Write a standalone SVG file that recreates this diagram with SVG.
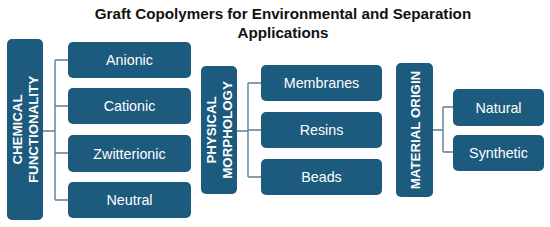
<svg xmlns="http://www.w3.org/2000/svg" width="550" height="227" viewBox="0 0 550 227">
<style>
.box{fill:#1c5b7e;}
.hdr{fill:#fff;font-family:"Liberation Sans",Arial,sans-serif;font-weight:bold;font-size:13.3px;text-anchor:middle;}
.lbl{fill:#fff;font-family:"Liberation Sans",Arial,sans-serif;font-size:14.3px;text-anchor:middle;}
.title{fill:#111;font-family:"Liberation Sans",Arial,sans-serif;font-weight:bold;font-size:15.2px;text-anchor:middle;}
.conn{fill:none;stroke:#5b7f97;stroke-width:1.4;}
</style>
<rect width="550" height="227" fill="#fff"/>
<g id="title">
<text class="title" x="283" y="19">Graft Copolymers for Environmental and Separation</text>
<text class="title" x="283" y="38">Applications</text>
</g>
<g id="connectors">
<path class="conn" d="M43 131H55M55 60V200M55 60H68M55 106H68M55 153H68M55 200H68"/>
<path class="conn" d="M237 131H248M248 83V177M248 83H261M248 130H261M248 177H261"/>
<path class="conn" d="M433 130H443M443 107V152M443 107H453M443 152H453"/>
</g>
<g id="chemical">
<rect class="box" x="7" y="39" width="36" height="181" rx="5"/>
<text class="hdr" transform="translate(25 129.5) rotate(-90)"><tspan x="0" y="-3">CHEMICAL</tspan><tspan x="0" y="12.5">FUNCTIONALITY</tspan></text>
</g>
<g id="anionic"><rect class="box" x="68" y="42" width="123" height="36" rx="5"/><text class="lbl" x="129.5" y="65">Anionic</text></g>
<g id="cationic"><rect class="box" x="68" y="88" width="123" height="36" rx="5"/><text class="lbl" x="129.5" y="111">Cationic</text></g>
<g id="zwitterionic"><rect class="box" x="68" y="135" width="123" height="37" rx="5"/><text class="lbl" x="129.5" y="158.5">Zwitterionic</text></g>
<g id="neutral"><rect class="box" x="68" y="182" width="123" height="36" rx="5"/><text class="lbl" x="129.5" y="205">Neutral</text></g>
<g id="physical">
<rect class="box" x="201" y="66" width="36" height="128" rx="5"/>
<text class="hdr" transform="translate(219 130) rotate(-90)"><tspan x="0" y="-3">PHYSICAL</tspan><tspan x="0" y="12.5">MORPHOLOGY</tspan></text>
</g>
<g id="membranes"><rect class="box" x="261" y="65" width="121" height="36" rx="5"/><text class="lbl" x="321.5" y="88">Membranes</text></g>
<g id="resins"><rect class="box" x="261" y="112" width="121" height="36" rx="5"/><text class="lbl" x="321.5" y="135">Resins</text></g>
<g id="beads"><rect class="box" x="261" y="159" width="121" height="36" rx="5"/><text class="lbl" x="321.5" y="182">Beads</text></g>
<g id="material">
<rect class="box" x="396" y="63" width="37" height="134" rx="5"/>
<text class="hdr" transform="translate(414.5 130) rotate(-90)" y="5">MATERIAL ORIGIN</text>
</g>
<g id="natural"><rect class="box" x="453" y="89" width="91" height="37" rx="5"/><text class="lbl" x="498.5" y="112.5">Natural</text></g>
<g id="synthetic"><rect class="box" x="453" y="135" width="91" height="36" rx="5"/><text class="lbl" x="498.5" y="158">Synthetic</text></g>
</svg>
